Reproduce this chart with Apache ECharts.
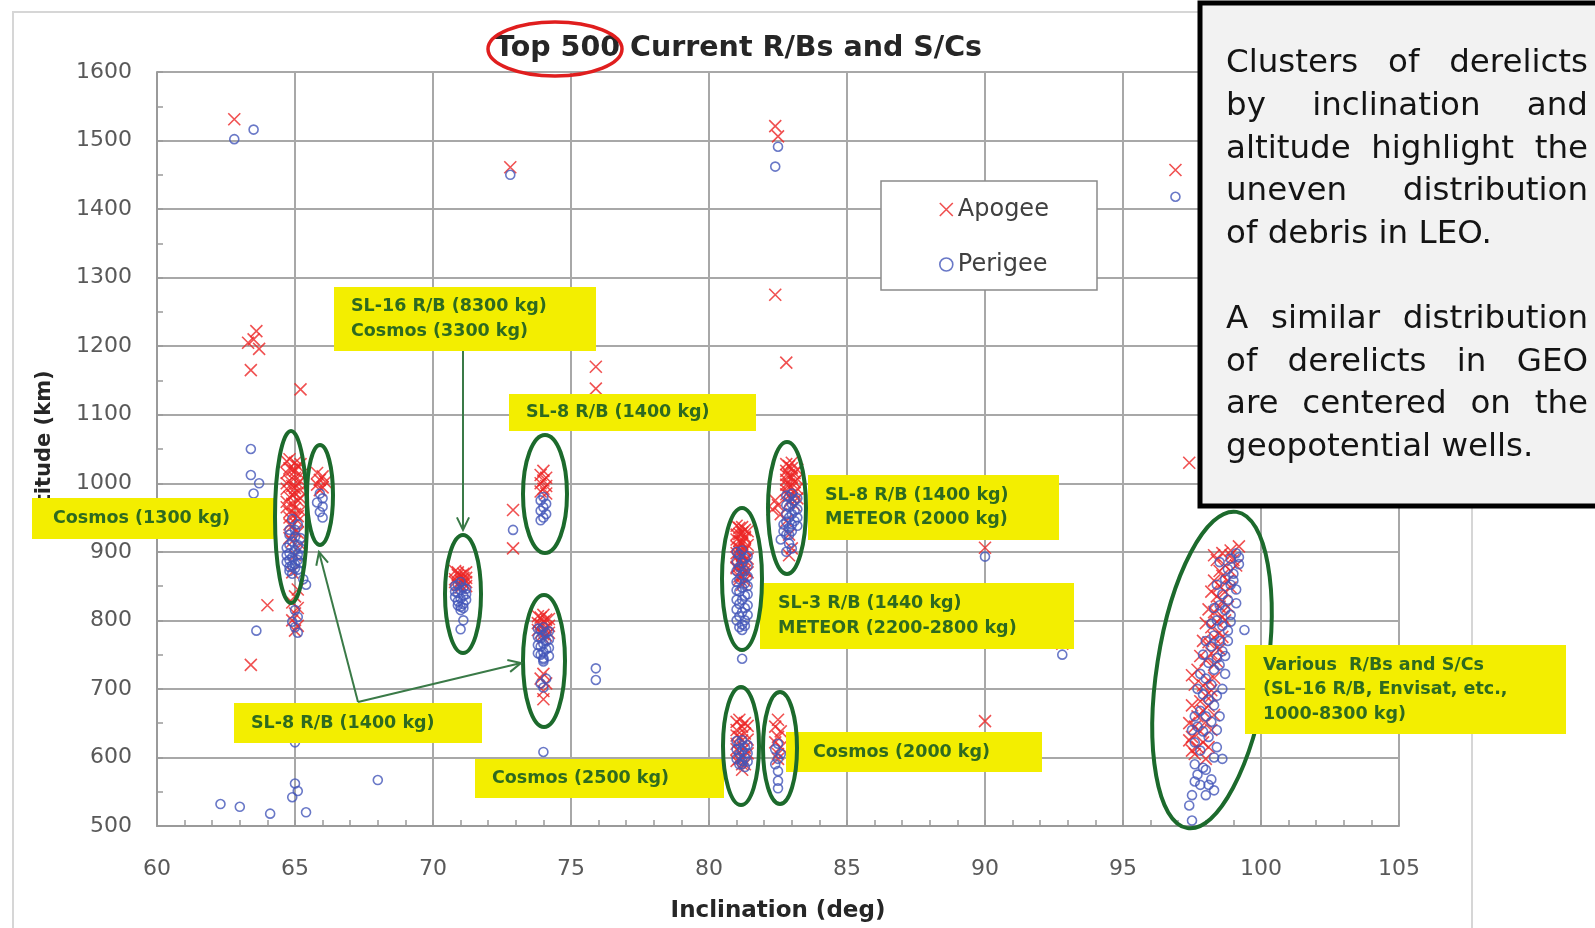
<!DOCTYPE html>
<html>
<head>
<meta charset="utf-8">
<script src="https://cdn.jsdelivr.net/npm/echarts@6/dist/echarts.min.js"></script>
<style>
html, body { margin: 0; padding: 0; background: #fff; }
#chart { width: 1595px; height: 928px; }
</style>
</head>
<body>
<div id="chart"></div>
<script>
// inclination (deg), altitude (km)
var apoScattered = [
	[62.8, 1531], [63.6, 1222], [63.5, 1210], [63.3, 1205], [63.7, 1196], [63.4, 1165], [65.2, 1137],
	[64.0, 822], [63.4, 735], [72.8, 1461], [75.9, 1170], [75.9, 1138], [72.9, 961], [72.9, 905],
	[82.4, 1521], [82.5, 1506], [82.4, 1275], [82.8, 1176], [96.9, 1457], [97.4, 1030],
	[90.0, 906], [90.0, 653], [92.8, 766]
];
var apo65 = [
	[64.8, 1035], [65.0, 1030], [65.1, 1025], [64.9, 1020], [64.7, 1015], [65.2, 1012], [65.0, 1008],
	[64.8, 1004], [65.1, 1000], [64.9, 996], [64.7, 992], [65.2, 990], [65.0, 985], [64.8, 980],
	[65.1, 975], [64.9, 970], [64.7, 965], [65.2, 960], [65.0, 955], [64.8, 950], [65.1, 945],
	[64.9, 938], [65.0, 930], [64.8, 920], [65.2, 910], [65.0, 895], [64.9, 870], [65.1, 845],
	[65.0, 835], [64.9, 826], [65.1, 818], [65.0, 810], [64.9, 800], [65.1, 792], [65.0, 785],
	[64.7, 1032], [65.2, 1028], [64.8, 1022], [65.0, 1018], [65.2, 1003], [64.7, 1000], [65.0, 993],
	[64.9, 983], [65.2, 978], [64.7, 973], [65.0, 964], [64.8, 958], [65.1, 952], [64.8, 940],
	[65.1, 928], [64.9, 915]
];
var apo66 = [[65.8, 1015], [66.0, 1010], [65.9, 1005], [66.1, 1002], [65.8, 998], [66.0, 994], [65.9, 990]];
var apo71 = [
	[70.9, 870], [71.1, 868], [71.0, 865], [71.2, 862], [70.8, 860], [71.0, 858], [71.1, 855],
	[70.9, 852], [71.2, 850], [71.0, 848], [70.8, 872], [71.2, 870], [70.9, 866], [71.1, 862],
	[70.8, 856], [71.2, 856], [71.0, 852]
];
var apo74 = [
	[74.0, 1018], [73.9, 1012], [74.1, 1008], [74.0, 1004], [73.9, 1000], [74.1, 996], [74.0, 992],
	[73.9, 988], [74.1, 985],
	[74.0, 808], [73.9, 804], [74.1, 801], [74.0, 798], [73.9, 794], [74.1, 790], [74.0, 786],
	[73.9, 782], [74.1, 778], [74.0, 774], [73.8, 806], [74.2, 802], [73.8, 796], [74.2, 792],
	[73.8, 786], [74.2, 782], [74.0, 780],
	[74.0, 722], [73.9, 715], [74.1, 708], [74.0, 697], [74.0, 685]
];
var apo81 = [
	[81.1, 935], [81.3, 932], [81.2, 928], [81.0, 925], [81.3, 920], [81.1, 916], [81.2, 912],
	[81.0, 908], [81.3, 904], [81.1, 900], [81.2, 896], [81.0, 892], [81.3, 888], [81.1, 884],
	[81.2, 880], [81.0, 876], [81.3, 872], [81.2, 866], [81.1, 860],
	[81.0, 938], [81.2, 936], [81.4, 930], [81.1, 926], [81.3, 922], [81.0, 918], [81.2, 914],
	[81.4, 910], [81.1, 906], [81.3, 902], [81.0, 898], [81.2, 894], [81.4, 890], [81.1, 886],
	[81.3, 882], [81.0, 878], [81.2, 874], [81.4, 870], [81.1, 864], [81.3, 858], [81.2, 852],
	[81.1, 655], [81.3, 650], [81.2, 645], [81.0, 640], [81.3, 635], [81.1, 630], [81.2, 625],
	[81.0, 620], [81.3, 614], [81.1, 608], [81.2, 600], [81.0, 595], [81.3, 590], [81.2, 582],
	[81.0, 652], [81.4, 646], [81.0, 632], [81.4, 626], [81.0, 612], [81.4, 606], [81.1, 598], [81.2, 590]
];
var apo83 = [
	[82.9, 1025], [83.0, 1022], [82.8, 1018], [83.1, 1015], [82.9, 1012], [83.0, 1008], [82.8, 1005],
	[83.1, 1002], [82.9, 998], [83.0, 994], [82.8, 990], [83.1, 986], [82.9, 982], [83.0, 978],
	[82.8, 1028], [83.0, 1030], [83.2, 1020], [82.8, 1012], [83.2, 1006], [82.8, 998], [83.2, 992],
	[82.8, 984], [83.2, 978], [82.9, 972], [83.1, 968],
	[82.4, 975], [82.5, 968], [82.3, 962], [82.6, 955], [82.8, 945], [82.9, 925], [83.0, 905], [82.9, 895],
	[82.5, 655], [82.4, 645], [82.6, 638], [82.5, 630], [82.4, 622], [82.6, 615], [82.5, 605], [82.5, 598]
];
var apoSSO = [
	[99.2, 908], [98.9, 902], [98.6, 898], [98.3, 895], [99.0, 888], [98.7, 880], [98.9, 872],
	[98.6, 865], [98.8, 858], [98.5, 850], [98.7, 842], [98.4, 835], [98.6, 828], [98.5, 820],
	[98.3, 812], [98.6, 805], [98.4, 798], [98.2, 790], [98.5, 782], [98.3, 775], [98.1, 768],
	[98.4, 760], [98.2, 752], [98.0, 742], [98.3, 735], [97.5, 720], [98.1, 712], [97.9, 705],
	[98.2, 698], [98.0, 690], [97.8, 682], [98.1, 675], [97.9, 668], [97.7, 660], [98.0, 652],
	[97.6, 645], [97.8, 638], [97.5, 630], [97.9, 622], [97.7, 615], [97.6, 605], [98.0, 598],
	[98.9, 895], [98.4, 888], [99.1, 880], [98.5, 872], [98.3, 858], [98.9, 848], [98.2, 842],
	[98.8, 820], [98.1, 816], [98.7, 800], [98.0, 796], [98.6, 776], [97.9, 770], [98.5, 758],
	[97.8, 748], [98.4, 740], [97.7, 728], [98.3, 716], [97.6, 706], [98.2, 690], [97.5, 676],
	[98.3, 662], [97.4, 650], [98.2, 640], [97.4, 625], [98.1, 615], [97.5, 610]
];

var periScattered = [
	[62.8, 1502], [63.5, 1516], [72.8, 1450], [82.5, 1491], [82.4, 1462], [96.9, 1418],
	[63.4, 1050], [63.4, 1012], [63.7, 1000], [63.5, 985], [63.6, 785], [62.3, 532], [63.0, 528],
	[64.1, 518], [65.0, 562], [65.1, 551], [64.9, 542], [65.4, 520], [68.0, 567], [65.0, 622],
	[72.9, 932], [74.0, 608], [75.9, 730], [75.9, 713], [81.2, 744], [90.0, 893], [92.8, 750], [99.4, 786]
];
var peri65 = [
	[64.9, 948], [65.1, 940], [65.0, 932], [64.8, 925], [65.2, 920], [64.9, 915], [65.1, 910],
	[64.7, 906], [65.0, 902], [64.8, 898], [65.2, 895], [64.9, 892], [65.1, 888], [64.7, 885],
	[65.0, 882], [64.8, 878], [65.1, 874], [64.9, 868], [65.3, 860], [65.4, 852], [65.0, 815],
	[65.1, 805], [64.9, 798], [65.0, 790], [65.1, 782],
	[64.8, 910], [65.2, 905], [64.7, 895], [65.1, 896], [64.8, 888], [65.2, 884], [64.9, 880],
	[65.0, 876], [64.8, 872], [65.0, 922], [64.8, 932],
	[65.9, 985], [66.0, 978], [65.8, 972], [66.0, 966], [65.9, 958], [66.0, 950]
];
var peri71 = [
	[71.0, 856], [70.9, 852], [71.1, 848], [71.0, 844], [70.9, 840], [71.1, 836], [71.0, 832],
	[70.9, 828], [71.1, 824], [71.0, 820], [71.0, 815], [71.1, 800], [71.0, 787],
	[70.8, 850], [71.2, 846], [70.8, 842], [71.2, 838], [70.8, 834], [71.2, 830], [70.9, 822], [71.1, 818]
];
var peri74 = [
	[74.0, 980], [73.9, 975], [74.1, 970], [74.0, 965], [73.9, 960], [74.1, 955], [74.0, 950], [73.9, 946],
	[74.0, 790], [73.9, 786], [74.1, 782], [74.0, 778], [73.9, 774], [74.1, 770], [74.0, 766],
	[73.9, 762], [74.1, 758], [74.0, 754], [73.9, 750], [74.0, 745], [74.0, 740],
	[73.8, 788], [74.2, 784], [73.8, 776], [74.2, 772], [73.8, 764], [74.2, 760], [73.8, 752],
	[74.2, 748], [74.0, 743], [74.1, 715], [73.9, 708], [74.0, 702]
];
var peri81 = [
	[81.2, 902], [81.1, 896], [81.3, 890], [81.2, 884], [81.1, 878], [81.3, 872], [81.2, 866],
	[81.1, 860], [81.3, 854], [81.2, 848], [81.1, 842], [81.3, 836], [81.2, 830], [81.1, 824],
	[81.3, 818], [81.2, 812], [81.1, 806], [81.3, 800], [81.2, 794], [81.2, 786],
	[81.0, 900], [81.4, 894], [81.0, 886], [81.4, 880], [81.0, 872], [81.4, 864], [81.0, 856],
	[81.4, 850], [81.0, 844], [81.4, 838], [81.0, 830], [81.4, 822], [81.0, 816], [81.4, 808],
	[81.0, 800], [81.3, 792], [81.1, 790],
	[81.2, 625], [81.1, 620], [81.3, 615], [81.2, 610], [81.1, 605], [81.3, 600], [81.2, 595],
	[81.1, 590], [81.3, 586], [81.0, 624], [81.4, 618], [81.0, 612], [81.4, 606], [81.0, 598],
	[81.4, 594], [81.2, 590]
];
var peri83 = [
	[83.0, 985], [82.9, 980], [83.1, 975], [83.0, 970], [82.9, 965], [83.1, 960], [83.0, 955],
	[82.9, 950], [83.1, 945], [83.0, 940], [82.9, 935], [82.7, 940], [82.7, 930], [82.8, 925],
	[82.6, 918], [82.9, 912], [83.0, 905], [82.8, 900],
	[82.8, 982], [83.2, 978], [82.8, 968], [83.2, 962], [82.8, 955], [83.2, 950], [82.8, 944],
	[83.2, 938], [83.0, 930], [82.9, 925],
	[82.5, 620], [82.4, 612], [82.6, 605], [82.5, 598], [82.4, 590], [82.5, 580], [82.5, 566], [82.5, 555]
];
var periSSO = [
	[99.1, 898], [98.9, 890], [99.2, 882], [98.8, 875], [99.0, 868], [98.7, 860], [98.9, 852],
	[99.1, 845], [98.6, 838], [98.8, 830], [98.5, 822], [98.7, 815], [98.9, 808], [98.4, 800],
	[98.6, 792], [98.8, 785], [98.3, 778], [98.5, 770], [98.2, 762], [98.6, 755], [98.4, 745],
	[98.1, 738], [98.3, 728], [98.7, 722], [98.0, 715], [98.2, 706], [98.6, 700], [97.9, 692],
	[98.1, 684], [98.3, 676], [97.8, 668], [98.0, 660], [98.2, 652], [97.7, 645], [97.9, 638],
	[98.1, 630], [97.6, 622], [98.4, 615], [97.8, 610], [98.6, 598], [97.6, 590], [98.0, 582],
	[97.7, 575], [98.2, 568], [97.8, 560], [98.3, 552], [97.5, 545], [97.4, 530], [97.5, 508],
	[99.2, 892], [98.5, 885], [99.0, 858], [98.4, 852], [99.1, 825], [98.3, 818], [98.9, 798],
	[98.2, 795], [98.8, 770], [98.0, 770], [98.7, 748], [97.9, 750], [98.5, 735], [97.8, 722],
	[98.4, 690], [97.7, 700], [98.5, 660], [97.6, 660], [98.4, 640], [97.5, 640], [98.3, 600],
	[97.9, 585], [98.1, 560], [97.6, 565], [98.0, 545]
];

var apogee = [].concat(apoScattered, apo65, apo66, apo71, apo74, apo81, apo83, apoSSO);
var perigee = [].concat(periScattered, peri65, peri71, peri74, peri81, peri83, periSSO);

var FONT = '"DejaVu Sans", sans-serif';
var RED = '#ec2626';
var BLUE = '#4356b9';
var GREEN_TEXT = '#2e6a1f';
var GREEN_LINE = '#1c6a2c';
var YELLOW = '#f3ee00';
var crossPath = 'path://M0,0L10,10M10,0L0,10';

// callout boxes (pixel layout)
var labelBoxes = [
	{ x: 334, y: 287, w: 262, h: 64, tx: 351, lines: ['SL-16 R/B (8300 kg)', 'Cosmos (3300 kg)'] },
	{ x: 509, y: 394, w: 247, h: 37, tx: 526, lines: ['SL-8 R/B (1400 kg)'] },
	{ x: 32, y: 498, w: 243, h: 41, tx: 53, lines: ['Cosmos (1300 kg)'] },
	{ x: 234, y: 703, w: 248, h: 40, tx: 251, lines: ['SL-8 R/B (1400 kg)'] },
	{ x: 475, y: 759, w: 249, h: 39, tx: 492, lines: ['Cosmos (2500 kg)'] },
	{ x: 808, y: 475, w: 251, h: 65, tx: 825, lines: ['SL-8 R/B (1400 kg)', 'METEOR (2000 kg)'] },
	{ x: 760, y: 583, w: 314, h: 66, tx: 778, lines: ['SL-3 R/B (1440 kg)', 'METEOR (2200-2800 kg)'] },
	{ x: 786, y: 732, w: 256, h: 40, tx: 813, lines: ['Cosmos (2000 kg)'] },
	{ x: 1245, y: 645, w: 321, h: 89, tx: 1263, size: 17.5, lines: ['Various  R/Bs and S/Cs', '(SL-16 R/B, Envisat, etc.,', '1000-8300 kg)'] }
];
// cx, cy, rx, ry, rotation, z
var ellipses = [
	[291, 517, 16, 86, 0, 12], [320, 495, 13, 50, 0, 12], [463, 594, 18, 59, 0, 12], [545, 494, 22, 59, 0, 12],
	[544, 661, 21, 66, 0, 12], [742, 579, 20, 71, 0, 12], [787, 508, 19, 66, 0, 12], [741, 746, 18, 59, 0, 12],
	[780, 748, 17, 56, 0, 12], [1212, 670, 55, 160, -0.154, 9]
];
var arrows = [
	[[463, 351], [463, 530]],
	[[358, 702], [319, 552]],
	[[358, 702], [521, 663]]
];
var noteLines = [
	'Clusters of derelicts', 'by inclination and', 'altitude highlight the', 'uneven distribution',
	'of debris in LEO.', '', 'A similar distribution', 'of derelicts in GEO', 'are centered on the',
	'geopotential wells.'
];

var graphics = [];
graphics.push({ type: 'rect', silent: true, z: 1, shape: { x: 13, y: 12, width: 1459, height: 940 },
	style: { fill: 'none', stroke: '#d6d6d6', lineWidth: 2 } });
graphics.push({ type: 'rect', silent: true, z: 1, shape: { x: 881, y: 181, width: 216, height: 109 },
	style: { fill: '#fff', stroke: '#8a8a8a', lineWidth: 1.5 } });

labelBoxes.forEach(function (b) {
	graphics.push({ type: 'rect', z: 10, silent: true, shape: { x: b.x, y: b.y, width: b.w, height: b.h },
		style: { fill: YELLOW } });
	graphics.push({ type: 'text', z: 11, silent: true, style: {
		text: b.lines.join('\n'), x: b.tx, y: b.y + b.h / 2, verticalAlign: 'middle',
		font: 'bold ' + (b.size || 17.5) + 'px ' + FONT, lineHeight: 24.5, fill: GREEN_TEXT } });
});

ellipses.forEach(function (e) {
	graphics.push({ type: 'ellipse', z: e[5], silent: true, x: e[0], y: e[1], rotation: e[4],
		shape: { cx: 0, cy: 0, rx: e[2], ry: e[3] },
		style: { fill: 'none', stroke: GREEN_LINE, lineWidth: 4 } });
});

arrows.forEach(function (a) {
	var from = a[0], tip = a[1];
	var ang = Math.atan2(tip[1] - from[1], tip[0] - from[0]);
	var len = 14, spread = 0.45;
	var w1 = [tip[0] - len * Math.cos(ang - spread), tip[1] - len * Math.sin(ang - spread)];
	var w2 = [tip[0] - len * Math.cos(ang + spread), tip[1] - len * Math.sin(ang + spread)];
	graphics.push({ type: 'polyline', z: 12, silent: true, shape: { points: [from, tip] },
		style: { stroke: '#3a7a47', lineWidth: 2 } });
	graphics.push({ type: 'polyline', z: 12, silent: true, shape: { points: [w1, tip, w2] },
		style: { stroke: '#3a7a47', lineWidth: 2, fill: 'none' } });
});

// red ring round "Top 500"
graphics.push({ type: 'ellipse', z: 12, silent: true, shape: { cx: 555, cy: 49, rx: 67, ry: 27 },
	style: { fill: 'none', stroke: '#e01e1e', lineWidth: 3.5 } });

// note box with justified text
graphics.push({ type: 'rect', z: 20, silent: true, shape: { x: 1200, y: 3, width: 430, height: 503 },
	style: { fill: '#f2f2f2', stroke: '#000', lineWidth: 5 } });
var noteFont = '32.5px "DejaVu Sans"';
var ctx = document.createElement('canvas').getContext('2d');
ctx.font = noteFont;
var noteLeft = 1226, noteRight = 1588;
noteLines.forEach(function (line, i) {
	if (!line) return;
	var y = 64 + i * 42.6;
	var last = (i === noteLines.length - 1) || !noteLines[i + 1];
	var words = line.split(' ');
	if (last) {
		graphics.push({ type: 'text', z: 21, silent: true, style: { text: line, x: noteLeft, y: y,
			verticalAlign: 'middle', font: noteFont, fill: '#141414' } });
		return;
	}
	var widths = words.map(function (w) { return ctx.measureText(w).width; });
	var total = widths.reduce(function (s, v) { return s + v; }, 0);
	var gap = (noteRight - noteLeft - total) / (words.length - 1);
	var x = noteLeft;
	words.forEach(function (w, k) {
		graphics.push({ type: 'text', z: 21, silent: true, style: { text: w, x: x, y: y,
			verticalAlign: 'middle', font: noteFont, fill: '#141414' } });
		x += widths[k] + gap;
	});
});

var chart = echarts.init(document.getElementById('chart'));
var option = {
	animation: false,
	title: {
		text: 'Top 500 Current R/Bs and S/Cs',
		left: 490,
		top: 29,
		textStyle: { fontFamily: FONT, fontSize: 28.5, fontWeight: 'bold', color: '#262626' }
	},
	legend: {
		orient: 'vertical',
		left: 934,
		top: 192,
		itemGap: 30,
		itemWidth: 13,
		itemHeight: 13,
		z: 5,
		textStyle: { fontFamily: FONT, fontSize: 24, color: '#404040', lineHeight: 25 },
		data: [
			{ name: 'Apogee', icon: crossPath, itemStyle: { color: 'rgba(0,0,0,0)', borderColor: RED, borderWidth: 1.6 } },
			{ name: 'Perigee', icon: 'circle', itemStyle: { color: 'rgba(0,0,0,0)', borderColor: BLUE, borderWidth: 1.6 } }
		]
	},
	grid: { left: 157, right: 196, top: 72, bottom: 102 },
	xAxis: {
		type: 'value',
		min: 60,
		max: 105,
		interval: 5,
		name: 'Inclination (deg)',
		nameLocation: 'middle',
		nameGap: 74,
		nameTextStyle: { fontFamily: FONT, fontSize: 23, fontWeight: 'bold', color: '#262626' },
		axisLine: { lineStyle: { color: '#9a9a9a', width: 2 } },
		axisTick: { show: true, inside: true, length: 6, lineStyle: { color: '#9a9a9a', width: 1.5 } },
		minorTick: { show: true, splitNumber: 5, length: 6, lineStyle: { color: '#9a9a9a', width: 1.5 } },
		splitLine: { lineStyle: { color: '#a8a8a8', width: 2 } },
		axisLabel: { margin: 32, fontFamily: FONT, fontSize: 22, color: '#595959' }
	},
	yAxis: {
		type: 'value',
		min: 500,
		max: 1600,
		interval: 100,
		name: 'Altitude (km)',
		nameLocation: 'middle',
		nameGap: 102,
		nameTextStyle: { fontFamily: FONT, fontSize: 21, fontWeight: 'bold', color: '#262626' },
		axisLine: { show: true, lineStyle: { color: '#9a9a9a', width: 2 } },
		axisTick: { show: true, inside: true, length: 6, lineStyle: { color: '#9a9a9a', width: 1.5 } },
		minorTick: { show: true, splitNumber: 2, length: 6, lineStyle: { color: '#9a9a9a', width: 1.5 } },
		splitLine: { lineStyle: { color: '#a8a8a8', width: 2 } },
		axisLabel: { margin: 25, fontFamily: FONT, fontSize: 22, color: '#595959',
			formatter: function (v) { return String(v); } }
	},
	series: [
		{
			name: 'Apogee',
			type: 'scatter',
			data: apogee,
			symbol: crossPath,
			symbolSize: 12,
			z: 2,
			itemStyle: { color: 'rgba(0,0,0,0)', borderColor: RED, borderWidth: 1.6 }
		},
		{
			name: 'Perigee',
			type: 'scatter',
			data: perigee,
			symbol: 'circle',
			symbolSize: 9,
			z: 3,
			itemStyle: { color: 'rgba(0,0,0,0)', borderColor: BLUE, borderWidth: 1.6 }
		}
	],
	graphic: { elements: graphics }
};
chart.setOption(option);
</script>
</body>
</html>
